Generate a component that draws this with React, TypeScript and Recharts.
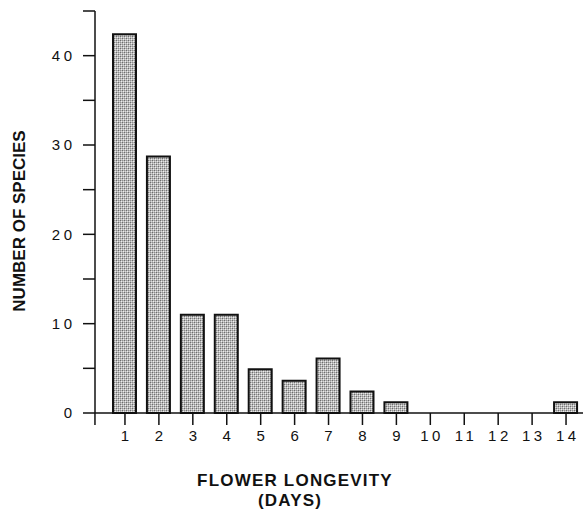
import { BarChart, Bar, XAxis, YAxis } from "recharts";

const days = ["1", "2", "3", "4", "5", "6", "7", "8", "9", "10", "11", "12", "13", "14"];
const species = [42.4, 28.7, 11.0, 11.0, 4.9, 3.6, 6.1, 2.4, 1.2, 0, 0, 0, 0, 1.2];
const yTicks = [0, 5, 10, 15, 20, 25, 30, 35, 40, 45];
const yLabeled = [0, 10, 20, 30, 40];

const data = days.map((day, i) => ({ day, species: species[i] }));

const FONT = "'Liberation Sans', Arial, Helvetica, sans-serif";
const INK = "#111";

function YTick(props: any) {
  const { x, y, payload } = props;
  const text = yLabeled.includes(payload.value) ? String(payload.value) : "";
  return (
    <text
      x={x + 3.5}
      y={y}
      dy="0.355em"
      textAnchor="end"
      fontFamily={FONT}
      fontSize={15}
      letterSpacing={3.5}
      fill={INK}
    >
      {text}
    </text>
  );
}

function XTick(props: any) {
  const { x, y, payload, index } = props;
  return (
    <g>
      {index === 0 && (
        <line x1={x - 30} x2={x - 30} y1={y - 17} y2={y - 5} stroke={INK} strokeWidth={1.5} />
      )}
      <text
        x={x + 1.75}
        y={y}
        dy="0.71em"
        textAnchor="middle"
        fontFamily={FONT}
        fontSize={15}
        letterSpacing={3.5}
        fill={INK}
      >
        {payload.value}
      </text>
    </g>
  );
}

function XTitle() {
  return (
    <g fontFamily={FONT} fontSize={17} fontWeight="bold" fill={INK} letterSpacing={1.2}>
      <text x={295} y={486} textAnchor="middle">FLOWER LONGEVITY</text>
      <text x={290} y={506} textAnchor="middle">(DAYS)</text>
    </g>
  );
}

function YTitle() {
  return (
    <text
      x={25}
      y={221}
      transform="rotate(-90 25 221)"
      textAnchor="middle"
      fontFamily={FONT}
      fontSize={17}
      fontWeight="bold"
      fill={INK}
    >
      NUMBER OF SPECIES
    </text>
  );
}

export default function App() {
  return (
    <div style={{ position: "absolute", left: 0, top: 0, background: "#fff" }}>
      <BarChart width={583} height={513} data={data} margin={{ top: 11, right: 0, left: 0, bottom: 0 }}>
        <defs>
          <pattern id="stipple" width="4" height="4" patternUnits="userSpaceOnUse">
            <rect x="0" y="0" width="4" height="4" fill="#b8b8b8" />
            <rect x="0" y="0" width="1" height="1" fill="#6e6e6e" />
            <rect x="2" y="2" width="1" height="1" fill="#6e6e6e" />
            <rect x="2" y="0" width="1" height="1" fill="#8e8e8e" />
            <rect x="0" y="2" width="1" height="1" fill="#8e8e8e" />
            <rect x="1" y="1" width="1" height="1" fill="#eeeeee" />
            <rect x="3" y="3" width="1" height="1" fill="#eeeeee" />
            <rect x="3" y="1" width="1" height="1" fill="#dddddd" />
            <rect x="1" y="3" width="1" height="1" fill="#dddddd" />
          </pattern>
        </defs>
        <XAxis
          dataKey="day"
          type="category"
          interval={0}
          padding={{ left: 13, right: 0 }}
          height={100}
          tickSize={12}
          tickMargin={5}
          axisLine={{ stroke: INK, strokeWidth: 1.5 }}
          tickLine={{ stroke: INK, strokeWidth: 1.5 }}
          tick={<XTick />}
          label={<XTitle />}
        />
        <YAxis
          type="number"
          domain={[0, 45]}
          ticks={yTicks}
          interval={0}
          width={95}
          tickSize={12}
          tickMargin={11}
          axisLine={{ stroke: INK, strokeWidth: 1.5 }}
          tickLine={{ stroke: INK, strokeWidth: 1.5 }}
          tick={<YTick />}
          label={<YTitle />}
        />
        <Bar
          dataKey="species"
          fill="url(#stipple)"
          stroke={INK}
          strokeWidth={2}
          barSize={23}
          isAnimationActive={false}
        />
      </BarChart>
    </div>
  );
}
